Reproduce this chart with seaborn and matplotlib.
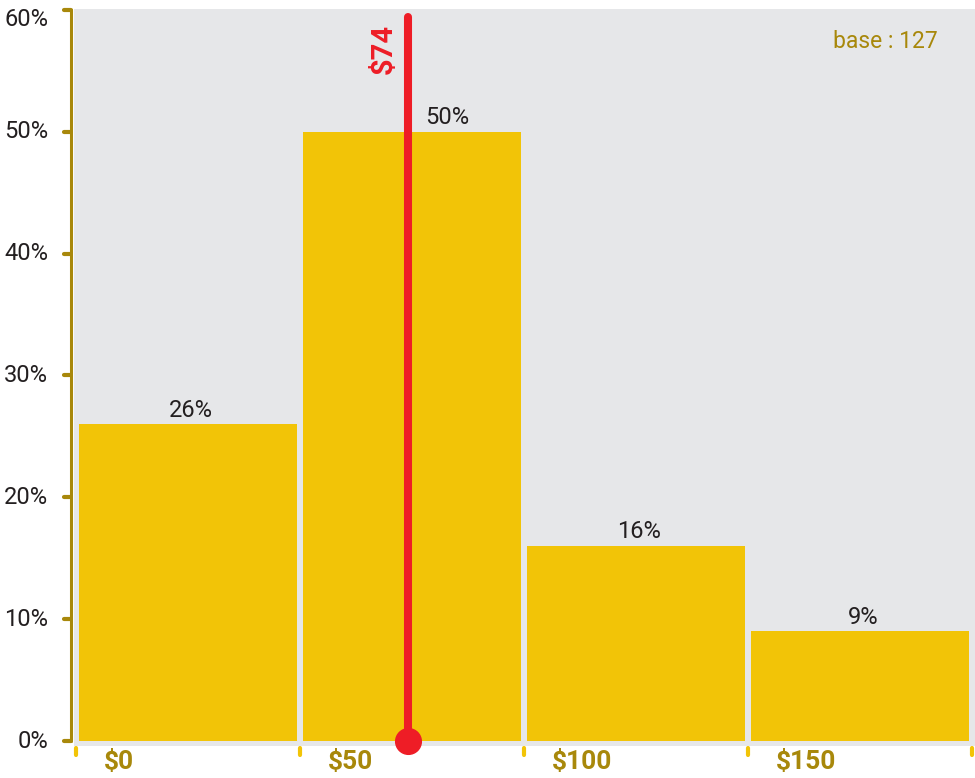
import matplotlib
matplotlib.use("Agg")
import matplotlib.pyplot as plt
import numpy as np
import pandas as pd
import seaborn as sns
from matplotlib import font_manager

# Price bands ($) and share of respondents (%)
bin_edges = [0, 50, 100, 150, 200]
bin_labels = ["$0", "$50", "$100", "$150"]
share_pct = [26, 50, 16, 9]
mean_price = 74
base_n = 127
y_ticks = [0, 10, 20, 30, 40, 50, 60]

YELLOW = "#F2C407"
GOLD = "#A8880B"
RED = "#EE1D26"
BG = "#E6E7E9"
INK = "#231F20"

sns.set_theme(style="white")
plt.rcParams["font.family"] = ["Roboto", "DejaVu Sans"]

installed = {f.name for f in font_manager.fontManager.ttflist}
narrow = "Liberation Sans Narrow" in installed

W, H = 975, 778
fig = plt.figure(figsize=(W / 100, H / 100), dpi=100)
ax_left, ax_right, ax_top, ax_bot = 74, 975, 9, 746
ax_w = ax_right - ax_left
ax_h = ax_bot - ax_top
ax = fig.add_axes([ax_left / W, (H - ax_bot) / H, ax_w / W, ax_h / H])
ax.set_facecolor(BG)

df = pd.DataFrame({
    "mid": [(a + b) / 2 for a, b in zip(bin_edges[:-1], bin_edges[1:])],
    "share": share_pct,
})
sns.histplot(data=df, x="mid", weights="share", bins=bin_edges, ax=ax,
             color=YELLOW, alpha=1, linewidth=0, shrink=0.973)

# scale: 0% sits 5 px above the bottom of the panel, 60% near its top
px_per_pct = (741 - 10) / 60
px_per_usd = (972 - 76) / 200
ax.set_ylim(-(ax_bot - 741) / px_per_pct, 60 + 1 / px_per_pct)
ax.set_xlim(-(76 - ax_left) / px_per_usd, 200 + (ax_right - 972) / px_per_usd)
ax.set_xlabel("")
ax.set_ylabel("")
ax.set_xticks([])
ax.set_yticks([])

for side in ["top", "right", "bottom"]:
    ax.spines[side].set_visible(False)
sp = ax.spines["left"]
sp.set_visible(True)
sp.set_position(("outward", 2.2))
sp.set_bounds(0, 60)
sp.set_color(GOLD)
sp.set_linewidth(2.2)
sp.set_capstyle("round")

ytr = ax.get_yaxis_transform()
xtr = ax.get_xaxis_transform()

# y ticks and labels
for v in y_ticks:
    ax.plot([(64 - ax_left) / ax_w, (71 - ax_left) / ax_w], [v, v], transform=ytr,
            color=GOLD, lw=3, solid_capstyle="round", clip_on=False)
    dy = -6.5 if v == 60 else 0
    ax.annotate(f"{v}%", xy=((48 - ax_left) / ax_w, v), xycoords=ytr,
                xytext=(0, dy), textcoords="offset points",
                ha="right", va="center", fontsize=17, color=INK,
                annotation_clip=False)

# x ticks at band edges, labels beside them
for e in bin_edges:
    ax.plot([e, e], [-(748 - ax_bot) / ax_h, -(755 - ax_bot) / ax_h], transform=xtr,
            color=YELLOW, lw=3, solid_capstyle="round", clip_on=False)
for e, lab in zip(bin_edges[:-1], bin_labels):
    ax.annotate(lab, xy=(e, 0), xycoords=xtr, xytext=(20, -11.5),
                textcoords="offset points", ha="left", va="center",
                fontsize=19, fontweight="bold", color=GOLD,
                annotation_clip=False)

# value labels above bars; the band holding the mean gets its label beside the line
for lo, hi, m, v in zip(bin_edges[:-1], bin_edges[1:], df["mid"], share_pct):
    if lo <= mean_price < hi:
        ax.annotate(f"{v}%", xy=(mean_price, v), xytext=(13, 5.5),
                    textcoords="offset points", ha="left", va="baseline",
                    fontsize=17, color=INK)
    else:
        ax.annotate(f"{v}%", xy=(m, v), xytext=(2, 5.5), textcoords="offset points",
                    ha="center", va="baseline", fontsize=17, color=INK)

# mean marker
ax.plot([mean_price, mean_price], [0, 59.4], color=RED, lw=5.8,
        solid_capstyle="round", zorder=5)
ax.plot([mean_price], [0], marker="o", ms=18.5, color=RED, mec=RED,
        zorder=6, clip_on=False)
mean_family = ["Liberation Sans Narrow"] if narrow else ["Roboto", "DejaVu Sans"]
ax.annotate(f"${mean_price}", xy=(mean_price, 59.4), xytext=(-7, -5),
            textcoords="offset points", rotation=90, ha="right", va="top",
            fontsize=25 if narrow else 21, fontweight="bold", color=RED,
            family=mean_family)

ax.text((938 - ax_left) / ax_w, (ax_bot - 42) / ax_h, f"base : {base_n}",
        transform=ax.transAxes, ha="right", va="center",
        fontsize=16.5, color=GOLD)

fig.savefig("out.png", dpi=100, facecolor="white")
